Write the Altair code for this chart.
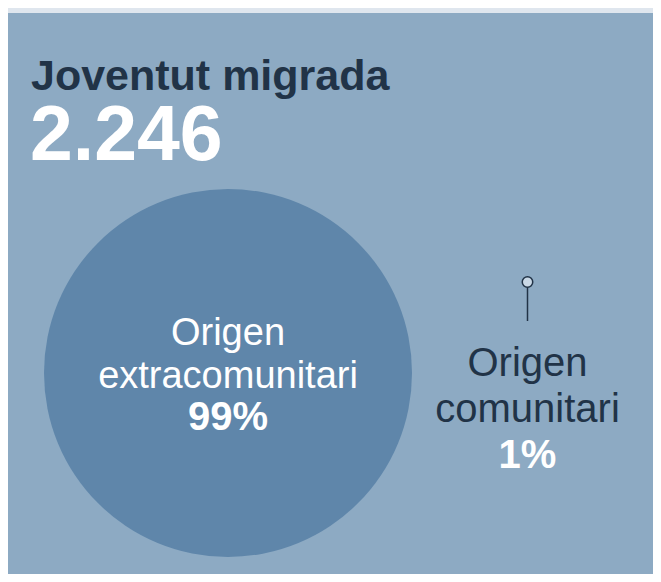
import altair as alt
import pandas as pd

# ---- data ----
title_text = ["Joventut migrada"]
total_text = ["2.246"]
categories = ["Origen extracomunitari", "Origen comunitari"]
label_line1 = ["Origen", "Origen"]
label_line2 = ["extracomunitari", "comunitari"]
shares = [99, 1]
share_labels = ["99%", "1%"]

# ---- layout / style ----
W, H = 645, 566
BG = "#dfe6ee"
PANEL = "#8daac3"
BUBBLE = "#5f86aa"
DARK = "#213347"
FONT = "Liberation Sans"
R_BIG = 184.0  # radius (px) for the 99% bubble

df = pd.DataFrame({
    "category": categories,
    "line1": label_line1,
    "line2": label_line2,
    "share": shares,
    "pct": share_labels,
})

one = pd.DataFrame({"a": [0]})

panel = alt.Chart(one).mark_rect(color=PANEL).encode(
    x=alt.value(0), x2=alt.value(W), y=alt.value(5), y2=alt.value(H)
)

# Vega circle symbol: radius = sqrt(size) / 2
size_scale = alt.Scale(domain=[0, 99], range=[0, (2 * R_BIG) ** 2], zero=True)

big = alt.Chart(df).transform_filter(alt.datum.share > 50)
small = alt.Chart(df).transform_filter(alt.datum.share <= 50)

bubble = big.mark_circle(color=BUBBLE, opacity=1).encode(
    x=alt.value(220), y=alt.value(365),
    size=alt.Size("share:Q", scale=size_scale, legend=None),
)

def txt(src, x, y, field, size, color, bold=False):
    kw = dict(font=FONT, fontSize=size, color=color, align="center", baseline="alphabetic")
    if bold:
        kw["fontWeight"] = "bold"
    return src.mark_text(**kw).encode(x=alt.value(x), y=alt.value(y), text=field)

big_l1 = txt(big, 220, 337, "line1:N", 38, "white")
big_l2 = txt(big, 220, 380, "line2:N", 38, "white")
big_l3 = txt(big, 220, 422, "pct:N", 40, "white", bold=True)

pin_line = small.mark_rule(color=DARK, strokeWidth=1.5).encode(
    x=alt.value(519.5), y=alt.value(279), y2=alt.value(313))
pin_dot = small.mark_point(shape="circle", filled=True, fill="#c9d8e6", stroke=DARK,
                           strokeWidth=1.5, opacity=1, size=110).encode(
    x=alt.value(519.5), y=alt.value(274))

sm_l1 = txt(small, 519.5, 368, "line1:N", 40, DARK)
sm_l2 = txt(small, 519.5, 414, "line2:N", 40, DARK)
sm_l3 = txt(small, 519.5, 460, "pct:N", 40, "white", bold=True)

title = alt.Chart(pd.DataFrame({"t": title_text})).mark_text(
    font=FONT, fontSize=43, fontWeight="bold", color=DARK, align="left", baseline="alphabetic"
).encode(x=alt.value(23), y=alt.value(82), text="t:N")

total = alt.Chart(pd.DataFrame({"t": total_text})).mark_text(
    font=FONT, fontSize=77, fontWeight="bold", color="white", align="left", baseline="alphabetic"
).encode(x=alt.value(22), y=alt.value(152), text="t:N")

chart = alt.layer(
    panel, bubble, big_l1, big_l2, big_l3, pin_line, pin_dot, sm_l1, sm_l2, sm_l3, title, total
).properties(
    width=W, height=H, padding=0, background=BG,
).configure_view(stroke=None)

chart.save("out.html", embed_options={"renderer": "svg", "actions": False})
